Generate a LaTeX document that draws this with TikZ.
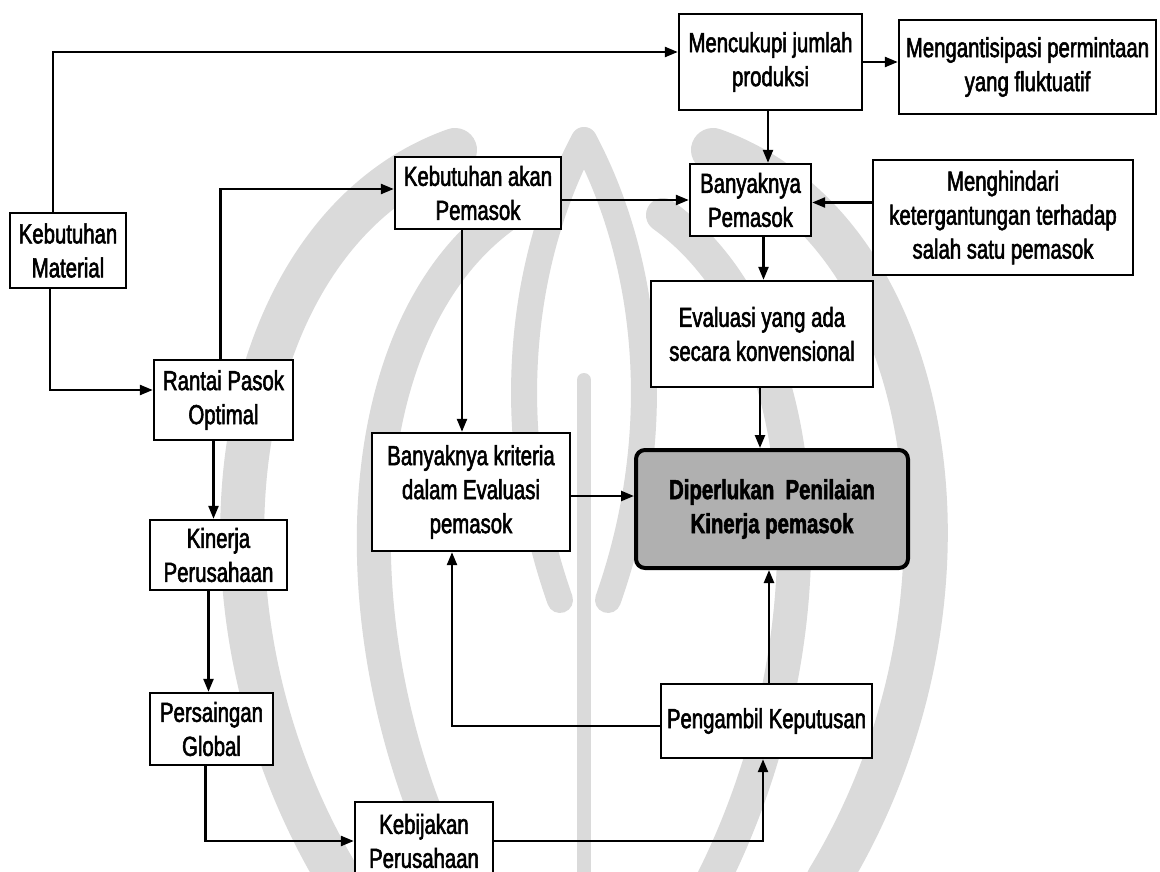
\documentclass[tikz,border=0pt]{standalone}
\usepackage{fontspec}
\setmainfont[FakeStretch=0.74,FakeBold=2]{Liberation Sans}
\usetikzlibrary{arrows.meta}
\definecolor{wmgray}{HTML}{DADADA}
\definecolor{keyfill}{HTML}{B0B0B0}
\tikzset{
  box/.style={draw, line width=2.4pt, fill=white, inner sep=0pt, align=center,
    font=\fontsize{27.5}{34}\selectfont},
  keybox/.style={box, line width=4pt, rounded corners=9pt, fill=keyfill,
    font=\bfseries\fontsize{27.5}{34}\selectfont},
  arr/.style={line width=2.4pt, -{Triangle[length=13pt,width=10pt]}},
  wm/.style={draw=wmgray, line width=#1, line cap=round},
}
\begin{document}
\begin{tikzpicture}[x=1pt, y=-1pt]
\useasboundingbox (0,0) rectangle (1160,872);
\fill[white] (0,0) rectangle (1160,872);

% faint emblem in the background
\begin{scope}
\clip (0,0) rectangle (1160,872);
\draw[wm=44] (455,150) .. controls (230,230) and (170,600) .. (340,880);
\draw[wm=44] (713,150) .. controls (938,230) and (998,600) .. (828,880);
\draw[wm=34] (505,215) .. controls (345,330) and (335,640) .. (455,880);
\draw[wm=34] (663,215) .. controls (823,330) and (833,640) .. (713,880);
\draw[wm=26] (584,140) .. controls (520,260) and (500,430) .. (560,600);
\draw[wm=26] (584,140) .. controls (648,260) and (668,430) .. (608,600);
\draw[wm=14] (584,380) -- (584,880);
\end{scope}

% boxes
\node[box, minimum width=116pt, minimum height=75pt] (km)   at (68,250.5)   {Kebutuhan\\Material};
\node[box, minimum width=183pt, minimum height=96pt] (menc) at (770.5,62)   {Mencukupi jumlah\\produksi};
\node[box, minimum width=257pt, minimum height=94pt] (ment) at (1027.5,67)  {Mengantisipasi permintaan\\yang fluktuatif};
\node[box, minimum width=166pt, minimum height=72pt] (kap)  at (478,193)    {Kebutuhan akan\\Pemasok};
\node[box, minimum width=121pt, minimum height=72pt] (bp)   at (750.5,200)  {Banyaknya\\Pemasok};
\node[box, minimum width=260pt, minimum height=115pt] (meng) at (1003,217.5) {Menghindari\\ketergantungan terhadap\\salah satu pemasok};
\node[box, minimum width=222pt, minimum height=106pt] (eval) at (762,334)   {Evaluasi yang ada\\secara konvensional};
\node[box, minimum width=139pt, minimum height=80pt] (rpo)  at (223.5,400)  {Rantai Pasok\\Optimal};
\node[box, minimum width=198pt, minimum height=118pt] (bk)   at (471,492)   {Banyaknya kriteria\\dalam Evaluasi\\pemasok};
\node[keybox, minimum width=272pt, minimum height=118pt] (dp) at (772,509)  {Diperlukan\ \ Penilaian\\Kinerja pemasok};
\node[box, minimum width=137pt, minimum height=70pt] (kp)   at (218.5,555)  {Kinerja\\Perusahaan};
\node[box, minimum width=123pt, minimum height=72pt] (pg)   at (211.5,729)  {Persaingan\\Global};
\node[box, minimum width=138pt, minimum height=78pt] (kbp)  at (424,841)    {Kebijakan\\Perusahaan};
\node[box, minimum width=211pt, minimum height=74pt] (pk)   at (766.5,721)  {Pengambil Keputusan};

% connectors
\draw[arr] ([xshift=-15pt]km.north) |- ([yshift=10pt]menc.west);
\draw[arr] ([xshift=-18pt]km.south) |- ([yshift=10pt]rpo.west);
\draw[arr] ([xshift=-3pt]rpo.north) |- ([yshift=4pt]kap.west);
\draw[arr] (kap.east |- bp.west) -- (bp.west);
\draw[arr] ([xshift=-16pt]kap.south) -- ([xshift=-16pt]kap.south |- bk.north);
\draw[arr] ([xshift=-2.5pt]menc.south) -- ([xshift=-2.5pt]menc.south |- bp.north);
\draw[arr] (menc.east) -- (menc.east -| ment.west);
\draw[arr] ([yshift=15pt]meng.west) -- ([yshift=15pt]meng.west -| bp.east);
\draw[arr] ([xshift=13pt]bp.south) -- ([xshift=13pt]bp.south |- eval.north);
\draw[arr] ([xshift=-2pt]eval.south) -- ([xshift=-2pt]eval.south |- dp.north);
\draw[arr] ([yshift=-4pt]bk.east) -- ([yshift=-4pt]bk.east -| dp.west);
\draw[arr] ([xshift=-10pt]rpo.south) -- ([xshift=-10pt]rpo.south |- kp.north);
\draw[arr] ([xshift=-10pt]kp.south) -- ([xshift=-10pt]kp.south |- pg.north);
\draw[arr] ([xshift=-6pt]pg.south) |- (kbp.west);
\draw[arr] (kbp.east) -| ([xshift=-3.5pt]pk.south);
\draw[arr] ([xshift=2.5pt]pk.north) -- ([xshift=2.5pt]pk.north |- dp.south);
\draw[arr] ([yshift=-5pt]pk.west) -| ([xshift=-19pt]bk.south);
\end{tikzpicture}
\end{document}
